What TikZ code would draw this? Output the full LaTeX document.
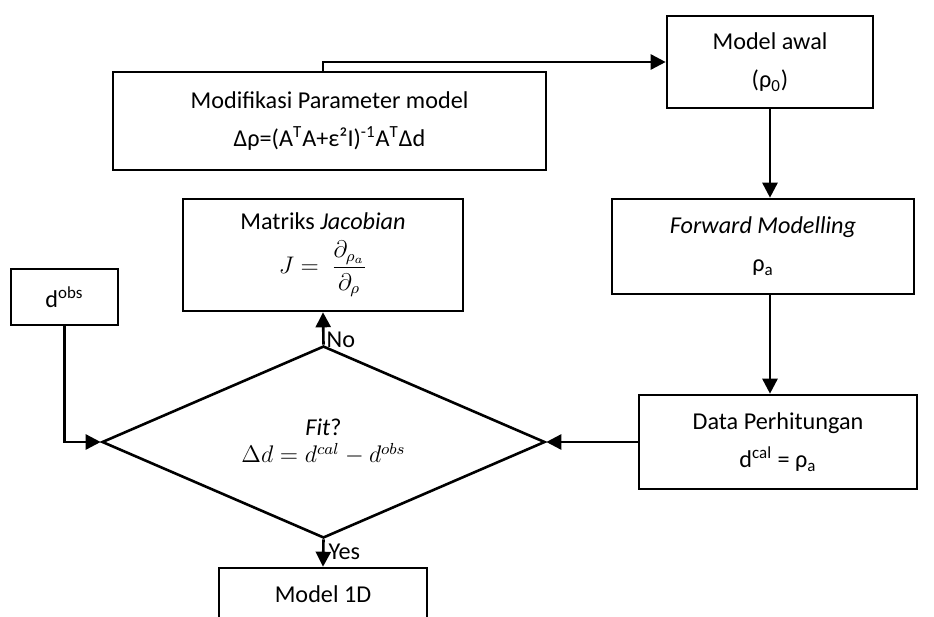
\documentclass[tikz,border=0pt]{standalone}
\usepackage{fontspec}
\setmainfont{Carlito}
\usetikzlibrary{arrows.meta,shapes.geometric}

\begin{document}
\begin{tikzpicture}[x=0.5pt,y=-0.5pt,
    font=\fontsize{12.1}{19}\selectfont,
    box/.style={draw, line width=1.3pt, align=center, inner sep=0pt},
    decision/.style={draw, diamond, aspect=2.3, line width=1.3pt, align=center, inner sep=0pt,
      minimum width=221.5pt, minimum height=96pt},
    arr/.style={line width=1.3pt, -{Triangle[length=7.5pt,width=7.5pt]}}]
    \useasboundingbox (0,0) rectangle (934,617);
    \clip (0,0) rectangle (934,617);
    % boxes
    \node [box, minimum width=216.5pt, minimum height=49pt] (mod) at (329.5,121)
      {Modifikasi Parameter model\\ Δρ=(A\textsuperscript{T}A+ε²I)\textsuperscript{-1}A\textsuperscript{T}Δd};
    \node [box, minimum width=103pt, minimum height=46pt] (awal) at (770,62)
      {Model awal\\ (ρ\textsubscript{0})};
    \node [box, minimum width=151pt, minimum height=47.5pt] (fwd) at (763,246.5)
      {\textit{Forward Modelling}\\ ρ\textsubscript{a}};
    \node [box, minimum width=139pt, minimum height=47pt] (data) at (778,442)
      {Data Perhitungan\\ d\textsuperscript{cal} = ρ\textsubscript{a}};
    \node [box, minimum width=140pt, minimum height=56pt] (jac) at (323,255)
      {Matriks \textit{Jacobian}\\[3pt] $J =\ \displaystyle\frac{\partial_{\rho_a}}{\partial_\rho}$};
    \node [box, minimum width=53.5pt, minimum height=28pt] (dobs) at (64.5,297)
      {d\textsuperscript{obs}};
    \node [decision] (dia) at (323.5,442)
      {\textit{Fit}?\\[-5.5pt] $\Delta d = d^{cal} - d^{obs}$};
    \node [box, minimum width=104pt, minimum height=26pt] (m1d) at (323,594) {Model 1D};
    % connectors
    \draw [arr] (mod.north -| jac.north) |- (awal.west);
    \draw [arr] (awal.south) -- (awal.south |- fwd.north);
    \draw [arr] (fwd.south -| awal.south) -- (data.north -| awal.south);
    \draw [arr] (data.west) -- (dia.east);
    \draw [arr] (dobs.south) |- (dia.west);
    \draw [arr] (dia.north) -- node [pos=0.15, right, inner sep=1pt] {No} (jac.south);
    \draw [arr] (dia.south) -- node [pos=0.45, right, inner sep=2pt] {Yes} (m1d.north);
  \end{tikzpicture}
\end{document}
